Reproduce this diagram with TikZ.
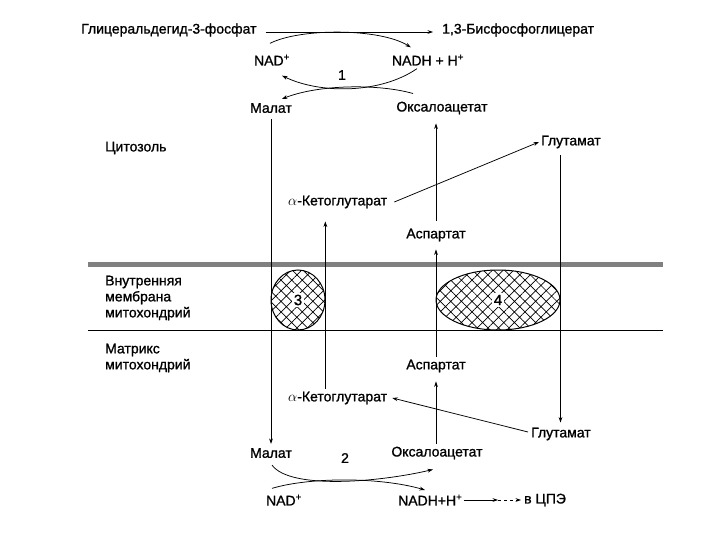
\documentclass[tikz,border=0pt]{standalone}
\usepackage{fontspec}
\setmainfont{Liberation Sans}[BoldFont=Liberation Sans, BoldFeatures={FakeBold=1.1}]
\usetikzlibrary{arrows.meta,patterns.meta,shapes.geometric,calc}
\begin{document}
\begin{tikzpicture}[x=1pt,y=-1pt,
  lbl/.style={font=\bfseries\fontsize{14}{16}\selectfont, inner sep=1pt},
  arr/.style={-{Stealth[length=5.5pt,width=3.8pt]}, line width=0.75pt},
  carrier/.style={ellipse, draw, line width=1pt, inner sep=0pt,
    pattern={Hatch[angle=45,distance=7.5pt,line width=0.7pt]}},
  digit/.style={font=\bfseries\fontsize{15}{17}\selectfont, fill=white, inner sep=1.5pt}
]
\useasboundingbox (0,0) rectangle (720,540);

% membrane
\fill[black!50] (88,262) rectangle (663,267);
\draw[line width=1pt] (88,330) -- (663,330);

% carriers
\node[carrier, minimum width=54pt, minimum height=60pt] (c3) at (298,300) {};
\node[carrier, minimum width=124pt, minimum height=60pt] (c4) at (498,300) {};
\node[digit] (d3) at (c3.center) {3};
\node[digit] (d4) at (c4.center) {4};

% texts
\node[lbl, anchor=west] (g3p) at (80,30) {Глицеральдегид-3-фосфат};
\node[lbl, anchor=west] (bpg) at (441,30) {1,3-Бисфосфоглицерат};
\node[lbl] (nad1) at (272,60) {NAD\textsuperscript{+}};
\node[lbl] (nadh1) at (428,60) {NADH + H\textsuperscript{+}};
\node[lbl] (one) at (342,75) {1};
\node[lbl] (mal1) at (271,108) {Малат};
\node[lbl] (oaa1) at (442,108) {Оксалоацетат};
\node[lbl, anchor=west] (cyt) at (104,148) {Цитозоль};
\node[lbl, anchor=west] (glu1) at (540,142) {Глутамат};
\node[lbl, anchor=west] (akg1) at (287,202) {$\alpha$-Кетоглутарат};
\node[lbl] (asp1) at (436,235) {Аспартат};
\node[lbl, anchor=west, align=left] (mem) at (104,298) {Внутренняя\\мембрана\\митохондрий};
\node[lbl, anchor=west, align=left] (mtx) at (104,358) {Матрикс\\митохондрий};
\node[lbl] (asp2) at (436,366) {Аспартат};
\node[lbl, anchor=west] (akg2) at (287,398) {$\alpha$-Кетоглутарат};
\node[lbl, anchor=west] (glu2) at (530,434) {Глутамат};
\node[lbl] (mal2) at (271,453) {Малат};
\node[lbl] (two) at (345,458) {2};
\node[lbl] (oaa2) at (437,453) {Оксалоацетат};
\node[lbl] (nad2) at (284,500) {NAD\textsuperscript{+}};
\node[lbl, anchor=west] (nadh2) at (397,500) {NADH+H\textsuperscript{\textbf{+}}};
\node[lbl, anchor=west] (cpe) at (523,500) {в ЦПЭ};
\coordinate (mid) at (498,500);

% top reaction
\draw[arr] ($(g3p.east)+(8,2)$) -- ($(bpg.west)+(-8,2)$);
\draw[arr] ($(nad1.north)+(-2,-10)$) .. controls (300,28) and (380,28) .. ($(nadh1.north west)+(20,-6)$);
\draw[arr] ($(nadh1.south)+(-11,2)$) .. controls (380,94) and (320,94) .. ($(nad1.south)+(10,9)$);
\draw[arr] ($(oaa1.north)+(-29,-7)$) .. controls (380,84) and (320,84) .. ($(mal1.north)+(11,-3)$);

% vertical transports
\draw[arr] ($(mal1.south)+(0,5)$) -- ($(mal2.north)+(0,-3)$);
\draw[arr] ($(c3.east |- akg2.north)+(0,-2)$) -- ($(c3.east |- akg1.south)+(0,12)$);
\draw[arr] ($(asp2.north)+(0,-2)$) -- ($(asp1.south)+(0,7)$);
\draw[arr] ($(asp1.north)+(0,-7)$) -- ($(oaa1.south -| asp1.north)+(0,8)$);
\draw[arr] ($(oaa2.north -| asp2.south)+(0,-2)$) -- ($(asp2.south)+(0,8)$);
\draw[arr] ($(c4.east |- glu1.south)+(0,6)$) -- ($(c4.east |- glu2.north)+(0,-4)$);
\draw[arr] ($(akg1.east)+(6,0)$) -- ($(glu1.west)+(-1,0)$);
\draw[arr] ($(glu2.west)+(-2,-2)$) -- ($(akg2.east)+(4,0)$);

% bottom reaction
\draw[arr] ($(mal2.south)+(1,6)$) .. controls (290,490) and (380,482) .. ($(oaa2.south)+(-4,9)$);
\draw[arr] ($(nad2.north)+(-12,-5)$) .. controls (310,477) and (380,477) .. ($(nadh2.west)+(28,-10)$);
\draw[arr] (nadh2.east) -- (mid);
\draw[arr, dashed] (mid) -- ($(cpe.west)+(-2,0)$);
\end{tikzpicture}
\end{document}
